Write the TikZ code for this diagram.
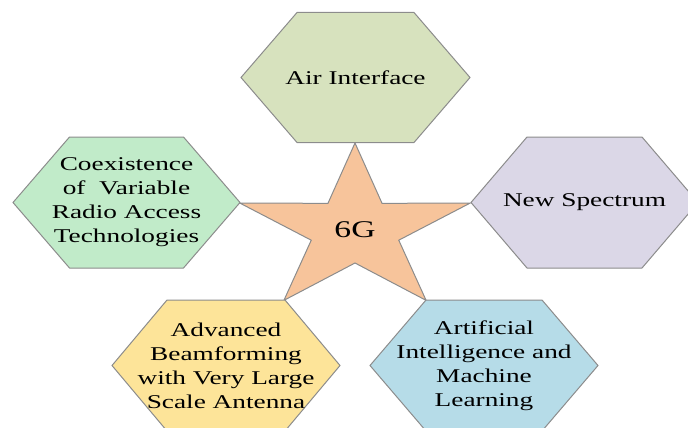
\documentclass[tikz,border=0pt]{standalone}
\usepackage{fontspec}
\setmainfont{Liberation Serif}[FakeStretch=1.4]
\usepackage{tikz}
\usetikzlibrary{positioning}
\definecolor{airgreen}{RGB}{215,226,190}
\definecolor{coexgreen}{RGB}{193,235,201}
\definecolor{speclilac}{RGB}{219,215,231}
\definecolor{beamyellow}{RGB}{253,228,153}
\definecolor{aiblue}{RGB}{182,220,232}
\definecolor{starorange}{RGB}{247,196,155}
\definecolor{edgegray}{RGB}{140,140,140}
\newcommand\hexagon[3]{% half width, half height, half top edge
  +(-#1,0) -- +(-#3,-#2) -- +(#3,-#2) -- +(#1,0) -- +(#3,#2) -- +(-#3,#2) -- cycle
}
\newcommand\fivestar[4]{% outer x and y radius, inner x and y radius
  +(-90:#1 and #2)
  \foreach \a in {0,...,4}{
    -- +({-54+72*\a}:#3 and #4) -- +({-18+72*\a}:#1 and #2)
  } -- cycle
}
\tikzset{
    % outline of the shapes
    hexa/.style={
           draw=edgegray,
           line width=1pt,
           },
    % text in the shapes
    lbl/.style={
           align=center,
           font=\fontsize{19.5}{24}\selectfont,
           inner sep=0pt,
           },
}

\begin{document}
\begin{tikzpicture}[x=1pt,y=-1pt]
  	\useasboundingbox (0,0) rectangle (688,428);
  	\coordinate (s) at (355,230);
  	\coordinate (p) at (355.5,77.5);
  	\coordinate (q) at (126.5,202.5);
  	\coordinate (r) at (584.5,202.5);
  	\coordinate (t) at (226,365.5);
  	\coordinate (u) at (484,365.5);
  	\draw[hexa,fill=starorange] (s) \fivestar{121}{87}{46}{33};
  	\draw[hexa,fill=airgreen] (p) \hexagon{114.5}{65}{58.5};
  	\draw[hexa,fill=coexgreen] (q) \hexagon{113.5}{65.5}{57};
  	\draw[hexa,fill=speclilac] (r) \hexagon{113.5}{65.5}{57.5};
  	\draw[hexa,fill=beamyellow] (t) \hexagon{114}{65.5}{59};
  	\draw[hexa,fill=aiblue] (u) \hexagon{114}{65.5}{58};
  	\node (g) at (s) [lbl,font=\fontsize{24}{28}\selectfont] {6G};
  	\node (a) at (p) [lbl] {Air Interface};
  	\node (b) at (q) [lbl] {Coexistence\\of~ Variable\\Radio Access\\Technologies};
  	\node (c) at (r) [lbl] {New Spectrum};
  	\node (d) at (t) [lbl] {Advanced\\Beamforming\\with Very Large\\Scale Antenna};
  	\node (e) at (u) [lbl] {Artificial\\Intelligence and\\Machine\\Learning};
\end{tikzpicture}
\end{document}
